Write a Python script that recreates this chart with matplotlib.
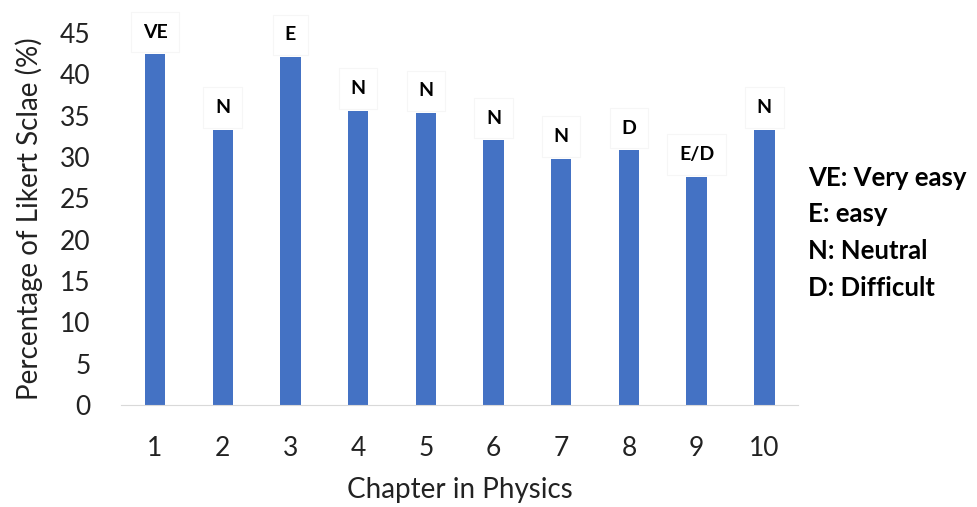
import numpy as np
import matplotlib.pyplot as plt

plt.rcParams['font.family'] = ['Lato', 'DejaVu Sans']

chapters = ['1', '2', '3', '4', '5', '6', '7', '8', '9', '10']
percent = [42.4, 33.3, 42.1, 35.6, 35.3, 32.0, 29.8, 30.8, 27.6, 33.3]
levels = ['VE', 'N', 'E', 'N', 'N', 'N', 'N', 'D', 'E/D', 'N']
key = ['VE: Very easy', 'E: easy', 'N: Neutral', 'D: Difficult']

fig = plt.figure(figsize=(9.77, 5.07), dpi=100)
ax = fig.add_axes([0.124, 0.201, 0.693, 0.734])

x = np.arange(len(chapters))
ax.bar(x, percent, width=0.3, color='#4472C4')

for xi, v, lab in zip(x, percent, levels):
    ax.annotate(lab, (xi, v), xytext=(0, 16), textcoords='offset points',
                ha='center', va='center', fontsize=14, fontweight='bold',
                bbox=dict(boxstyle='square,pad=0.6', fc='white', ec='#f6f6f6', lw=0.8))

ax.set_xlim(-0.5, len(chapters) - 0.5)
ax.set_ylim(0, 45)
ax.set_yticks(range(0, 46, 5))
ax.set_xticks(x)
ax.set_xticklabels(chapters)
ax.tick_params(axis='both', length=0, labelsize=19, colors='#222222')
ax.tick_params(axis='x', pad=22)
ax.tick_params(axis='y', pad=22)

for s in ['top', 'right', 'left']:
    ax.spines[s].set_visible(False)
ax.spines['bottom'].set_color('#d9d9d9')

ax.set_xlabel('Chapter in Physics', fontsize=20, color='#222222', labelpad=12)
ax.set_ylabel('Percentage of Likert Sclae (%)', fontsize=20, color='#222222', labelpad=12)

for i, t in enumerate(key):
    fig.text(0.827, 1 - (178 + 36.5 * i) / 507, t, fontsize=18.5,
             fontweight='bold', va='center', ha='left')

fig.savefig('out.png', dpi=100)
